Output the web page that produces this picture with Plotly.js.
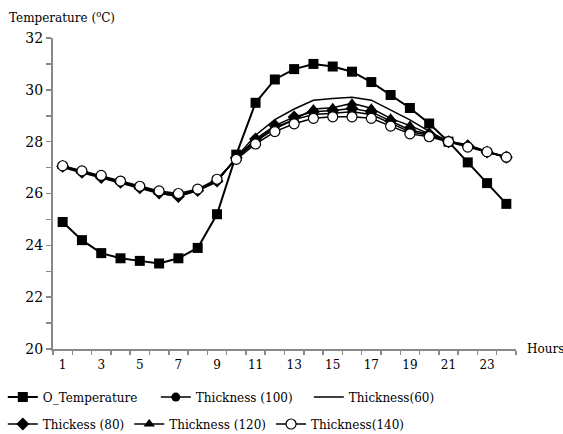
<!DOCTYPE html>
<html>
<head>
<meta charset="utf-8">
<script src="https://cdn.plot.ly/plotly-3.0.1.min.js"></script>
<style>html,body{margin:0;padding:0;background:#fff;}#chart{width:563px;height:434px;}</style>
</head>
<body>
<div id="chart"></div>
<script>
const hours = [1,2,3,4,5,6,7,8,9,10,11,12,13,14,15,16,17,18,19,20,21,22,23,24];
const oTemperature = [24.9,24.2,23.7,23.5,23.4,23.3,23.5,23.9,25.2,27.5,29.5,30.4,30.8,31.0,30.9,30.7,30.3,29.8,29.3,28.7,28.0,27.2,26.4,25.6];
const thick100 = [27.05,26.85,26.65,26.45,26.25,26.05,25.92,26.15,26.5,27.35,28.05,28.55,28.85,29.05,29.1,29.15,29.05,28.7,28.38,28.25,28.0,27.82,27.6,27.4];
const thick60 = [27.0,26.8,26.6,26.4,26.2,26.0,25.9,26.1,26.45,27.4,28.25,28.85,29.26,29.6,29.67,29.71,29.6,29.22,28.84,28.4,28.0,27.85,27.6,27.4];
const thick80 = [27.05,26.82,26.62,26.43,26.22,26.02,25.88,26.12,26.48,27.38,28.1,28.62,28.95,29.15,29.2,29.28,29.15,28.8,28.45,28.3,28.0,27.84,27.6,27.4];
const thick120 = [27.05,26.85,26.65,26.45,26.25,26.05,25.95,26.15,26.52,27.35,28.0,28.5,28.85,29.26,29.31,29.48,29.29,28.9,28.62,28.3,28.02,27.88,27.62,27.42];
const thick140 = [27.07,26.87,26.7,26.48,26.28,26.1,26.0,26.17,26.55,27.32,27.91,28.39,28.69,28.9,28.96,28.96,28.9,28.6,28.3,28.19,28.0,27.79,27.61,27.4];
const yTickVals = [20,21,22,23,24,25,26,27,28,29,30,31,32];
const yTickText = ['20','','22','','24','','26','','28','','30','','32'];
const xTickVals = [1,3,5,7,9,11,13,15,17,19,21,23];
const xTickText = ['1','3','5','7','9','11','13','15','17','19','21','23'];

const font = 'DejaVu Serif';
const traces = [
  {x: hours, y: oTemperature, name: 'O_Temperature', mode: 'lines+markers', legend: 'legend',
   line: {color: '#000', width: 2}, marker: {symbol: 'square', size: 10, color: '#000'}},
  {x: hours, y: thick100, name: 'Thickness (100)', mode: 'lines+markers', legend: 'legend',
   line: {color: '#000', width: 1.5}, marker: {symbol: 'circle', size: 9, color: '#000'}},
  {x: hours, y: thick60, name: 'Thickness(60)', mode: 'lines', legend: 'legend',
   line: {color: '#000', width: 1.5}},
  {x: hours, y: thick80, name: 'Thickess (80)', mode: 'lines+markers', legend: 'legend2',
   line: {color: '#000', width: 1.5}, marker: {symbol: 'diamond', size: 10, color: '#000'}},
  {x: hours, y: thick120, name: 'Thickness (120)', mode: 'lines+markers', legend: 'legend2',
   line: {color: '#000', width: 1.5}, marker: {symbol: 'triangle-up', size: 10, color: '#000'}},
  {x: hours, y: thick140, name: 'Thickness(140)', mode: 'lines+markers', legend: 'legend2',
   line: {color: '#000', width: 1.5}, marker: {symbol: 'circle', size: 10, color: '#fff', line: {color: '#000', width: 1.2}}}
];

const legendFont = {family: font, size: 12, color: '#000'};
const layout = {
  width: 563, height: 434,
  margin: {l: 53, r: 47, t: 38, b: 85},
  paper_bgcolor: '#fff', plot_bgcolor: '#fff',
  font: {family: font, size: 12, color: '#000'},
  showlegend: true,
  legend: {orientation: 'h', xref: 'container', yref: 'container', x: 0.005, xanchor: 'left', y: 0.085, yanchor: 'middle',
    font: legendFont, itemwidth: 30, entrywidth: 108, bgcolor: 'rgba(0,0,0,0)'},
  legend2: {orientation: 'h', xref: 'container', yref: 'container', x: 0.005, xanchor: 'left', y: 0.023, yanchor: 'middle',
    font: legendFont, itemwidth: 30, bgcolor: 'rgba(0,0,0,0)'},
  xaxis: {range: [0.5, 24.5], showgrid: false, zeroline: false,
    showline: true, linecolor: '#888', linewidth: 2,
    tickvals: xTickVals, ticktext: xTickText, ticks: '', ticklabelstandoff: 4,
    tickfont: {family: font, size: 12, color: '#000'},
    minor: {tick0: 0.5, dtick: 1, ticks: 'outside', ticklen: 4, tickcolor: '#888', tickwidth: 1.5, showgrid: false}},
  yaxis: {range: [20, 32], showgrid: false, zeroline: false,
    showline: true, linecolor: '#888', linewidth: 2,
    tickvals: yTickVals, ticktext: yTickText, ticks: 'outside', ticklen: 5,
    tickcolor: '#888', tickwidth: 1.5,
    tickfont: {family: font, size: 14, color: '#000'}},
  annotations: [
    {text: 'Temperature (<sup>o</sup>C)', xref: 'paper', yref: 'paper', x: -0.1, y: 1.035,
     xanchor: 'left', yanchor: 'bottom', showarrow: false, font: {family: font, size: 12, color: '#000'}},
    {text: 'Hours', xref: 'paper', yref: 'paper', x: 1.02, y: 0,
     xanchor: 'left', yanchor: 'middle', showarrow: false, font: {family: font, size: 12, color: '#000'}}
  ]
};

Plotly.newPlot('chart', traces, layout, {displayModeBar: false, staticPlot: true});
</script>
</body>
</html>
